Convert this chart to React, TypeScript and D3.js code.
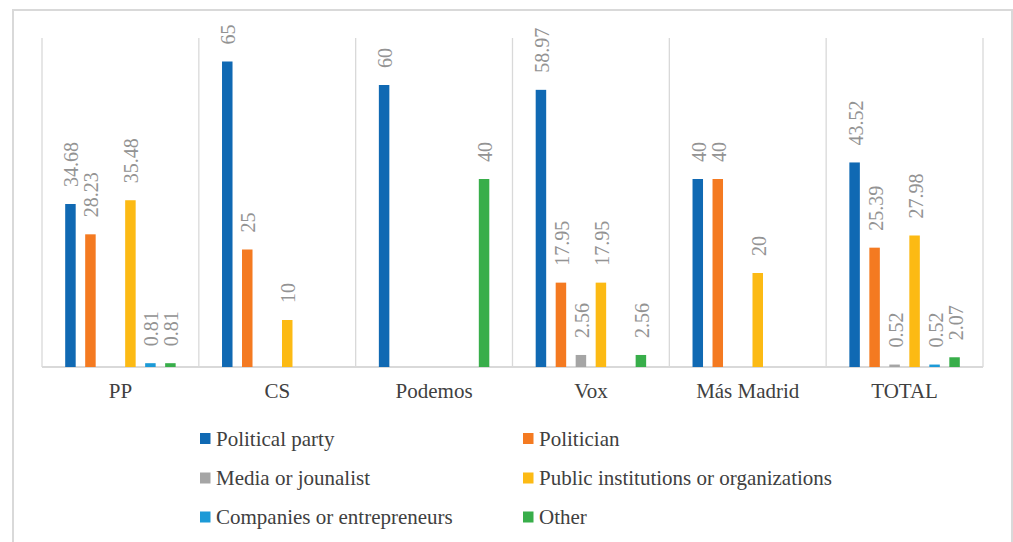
import React from "react";
import * as d3 from "d3";

// Categories along the x axis
const categories = ["PP", "CS", "Podemos", "Vox", "Más Madrid", "TOTAL"];

// Series (sources) and their colours
const seriesNames = [
  "Political party",
  "Politician",
  "Media or jounalist",
  "Public institutions or organizations",
  "Companies or entrepreneurs",
  "Other",
];
const seriesColors = ["#1069b3", "#f47a21", "#a5a5a5", "#fcba14", "#1c9ad7", "#38ae4a"];

// Values per series, one entry per category (null = no bar)
const politicalParty = [34.68, 65, 60, 58.97, 40, 43.52];
const politician = [28.23, 25, null, 17.95, 40, 25.39];
const mediaJournalist = [null, null, null, 2.56, null, 0.52];
const publicInstitutions = [35.48, 10, null, 17.95, 20, 27.98];
const companies = [0.81, null, null, null, null, 0.52];
const other = [0.81, null, 40, 2.56, null, 2.07];

const seriesValues = [politicalParty, politician, mediaJournalist, publicInstitutions, companies, other];

const yDomain = [0, 70];

const W = 1013;
const H = 542;
const plot = { left: 42, right: 983, top: 38, bottom: 367 };
const serif = '"Liberation Serif"';
const gridColor = "#d9d9d9";

export default function App() {
  const x0 = d3.scaleBand<string>().domain(categories).range([plot.left, plot.right]).padding(0);
  const x1 = d3
    .scaleBand<number>()
    .domain(d3.range(seriesNames.length))
    .range([0, x0.bandwidth()])
    .paddingInner(0.475)
    .paddingOuter(1.16);
  const y = d3.scaleLinear().domain(yDomain).range([plot.bottom, plot.top]);

  const boundaries = [...categories.map((c) => x0(c) as number), plot.right];

  const legendCols = [200, 523];
  const legendRows = [438.5, 478, 517];

  const textStyle = { fontFamily: serif };

  return (
    <svg
      width={W}
      height={H}
      style={{ position: "absolute", left: 0, top: 0, background: "#fff", fontFamily: serif }}
    >
      {/* chart frame */}
      <rect x={13} y={10} width={999} height={560} fill="#fff" stroke={gridColor} strokeWidth={2} />

      {/* category separators */}
      {boundaries.map((bx, i) => (
        <line key={i} x1={bx} x2={bx} y1={plot.top} y2={plot.bottom} stroke={gridColor} strokeWidth={1.3} />
      ))}
      {/* baseline */}
      <line x1={plot.left} x2={plot.right} y1={plot.bottom} y2={plot.bottom} stroke={gridColor} strokeWidth={1.8} />

      {/* bars and value labels */}
      {categories.map((cat, ci) => (
        <g key={cat} transform={`translate(${x0(cat)},0)`}>
          {seriesValues.map((vals, si) => {
            const v = vals[ci];
            if (v == null) return null;
            const bx = x1(si) as number;
            const bw = x1.bandwidth();
            const top = y(v);
            return (
              <g key={si}>
                <rect x={bx} y={top} width={bw} height={plot.bottom - top} fill={seriesColors[si]} />
                <text
                  transform={`translate(${bx + bw / 2},${top - 17}) rotate(-90)`}
                  dy="0.4em"
                  fontSize={20}
                  fill="#939393"
                  textAnchor="start"
                  style={textStyle}
                >
                  {String(v)}
                </text>
              </g>
            );
          })}
        </g>
      ))}

      {/* category labels */}
      {categories.map((cat) => (
        <text
          key={cat}
          x={(x0(cat) as number) + x0.bandwidth() / 2}
          y={398}
          textAnchor="middle"
          fontSize={21}
          fill="#404040"
          style={textStyle}
        >
          {cat}
        </text>
      ))}

      {/* legend */}
      {seriesNames.map((name, i) => {
        const lx = legendCols[i % 2];
        const ly = legendRows[Math.floor(i / 2)];
        return (
          <g key={name}>
            <rect x={lx} y={ly - 5.5} width={10.5} height={11} fill={seriesColors[i]} />
            <text x={lx + 16} y={ly} dy="0.35em" fontSize={21} fill="#404040" style={textStyle}>
              {name}
            </text>
          </g>
        );
      })}
    </svg>
  );
}
